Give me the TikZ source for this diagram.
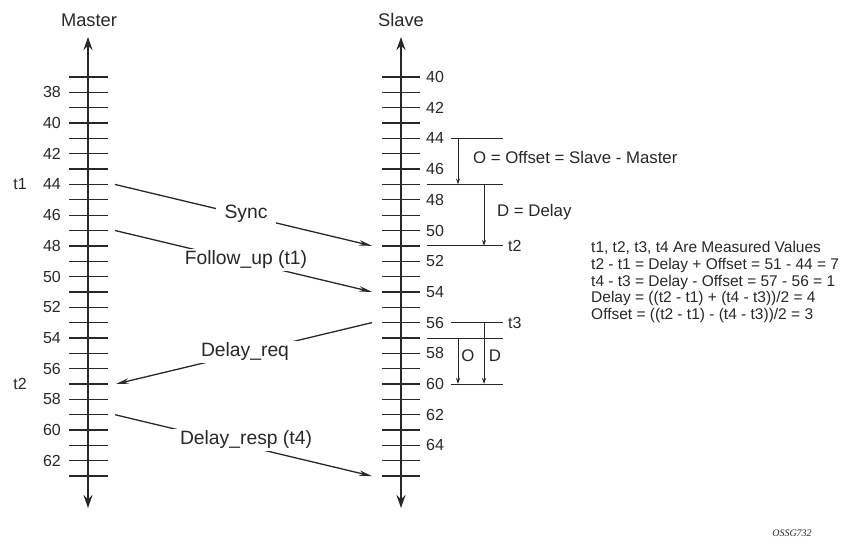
\documentclass[tikz,border=0pt]{standalone}
\usepackage{fontspec}
\setmainfont{Liberation Sans}
\newfontfamily\capfont{Liberation Serif}
\usetikzlibrary{arrows.meta}
\definecolor{ink}{RGB}{40,40,40}
\begin{document}
\begin{tikzpicture}[x=1pt,y=-1pt,
  axis/.style={draw=ink, line width=2pt, {Stealth[length=13pt,width=9pt]}-{Stealth[length=13pt,width=9pt]}},
  tickline/.style={draw=ink, line width=1.3pt},
  msg/.style={draw=ink, line width=1.3pt, -{Stealth[length=13pt,width=5.5pt]}},
  msglabel/.style={fill=white, inner xsep=9pt, inner ysep=2pt, text=ink, font=\fontsize{19.3}{21}\selectfont},
  num/.style={text=ink, font=\fontsize{16}{18}\selectfont, inner sep=0pt},
  head/.style={text=ink, font=\fontsize{18.3}{20}\selectfont, inner sep=0pt},
  thin/.style={draw=ink, line width=0.8pt},
  thinarrow/.style={draw=ink, line width=0.8pt, -{Stealth[length=6pt,width=4pt]}},
  note/.style={text=ink, font=\fontsize{16.8}{18}\selectfont, inner sep=0pt},
  small/.style={text=ink, font=\fontsize{15.5}{16.8}\selectfont, inner sep=0pt}
]
\useasboundingbox (0,0) rectangle (841,549);

% axes
\coordinate (mtop) at (88,37);
\coordinate (mbot) at (88,508);
\coordinate (stop) at (401,37);
\coordinate (sbot) at (401,508);
\foreach \i in {0,...,26} {
  \pgfmathsetmacro\yy{77+\i*15.35}
  \draw[tickline] (69,\yy) -- (108,\yy);
  \draw[tickline] (382,\yy) -- (420,\yy);
}
\draw[axis] (mbot) -- (mtop);
\draw[axis] (sbot) -- (stop);
\node[head] (master) at (89,20) {Master};
\node[head] (slave) at (401,20) {Slave};

% numbers
\foreach \i in {1,3,...,25} {
  \pgfmathtruncatemacro\v{37+\i}
  \pgfmathsetmacro\yy{77+\i*15.35}
  \node[num, anchor=east] (ml\v) at (61,\yy) {\v};
}
\foreach \i in {0,2,...,24} {
  \pgfmathtruncatemacro\v{40+\i}
  \pgfmathsetmacro\yy{77+\i*15.35}
  \node[num, anchor=west] (sl\v) at (426,\yy) {\v};
}
\node[num] (t1) at (20,184.45) {t1};
\node[num] (t2m) at (20,384) {t2};

% messages
\coordinate (m44) at (115,184.45);
\coordinate (s51) at (372,245.85);
\coordinate (m47) at (115,230.5);
\coordinate (s54) at (372,291.9);
\coordinate (s56) at (372,322.6);
\coordinate (m57) at (116,384);
\coordinate (m59) at (115,414.7);
\coordinate (s66) at (372,476.1);
\draw[msg] (m44) -- (s51);
\node[msglabel] (sync) at (246,214) {Sync};
\draw[msg] (m47) -- (s54);
\node[msglabel] (fup) at (246,260) {Follow\_up (t1)};
\draw[msg] (s56) -- (m57);
\node[msglabel] (dreq) at (245,352) {Delay\_req};
\draw[msg] (m59) -- (s66);
\node[msglabel] (dresp) at (246,440) {Delay\_resp (t4)};

% upper annotations
\coordinate (a1l) at (451,138.4);  \coordinate (a1r) at (503,138.4);
\coordinate (a2l) at (427,184.45); \coordinate (a2r) at (503,184.45);
\coordinate (a3l) at (427,245.85); \coordinate (a3r) at (503,245.85);
\draw[thin] (a1l) -- (a1r);
\draw[thin] (a2l) -- (a2r);
\draw[thin] (a3l) -- (a3r);
\coordinate (o1s) at (458,138.4); \coordinate (o1e) at (458,184.45);
\coordinate (d1s) at (484,184.45); \coordinate (d1e) at (484,245.85);
\draw[thinarrow] (o1s) -- (o1e);
\draw[thinarrow] (d1s) -- (d1e);
\node[note, anchor=west] (olabel) at (473,157) {O = Offset = Slave - Master};
\node[note, anchor=west] (dlabel) at (497,212) {D = Delay};
\node[num, anchor=west] (t2s) at (508,246) {t2};

% lower annotations
\coordinate (b1l) at (451,322.6);  \coordinate (b1r) at (503,322.6);
\coordinate (b2l) at (427,337.95); \coordinate (b2r) at (503,337.95);
\coordinate (b3l) at (451,384);    \coordinate (b3r) at (503,384);
\draw[thin] (b1l) -- (b1r);
\draw[thin] (b2l) -- (b2r);
\draw[thin] (b3l) -- (b3r);
\coordinate (o2s) at (458,337.95); \coordinate (o2e) at (458,384);
\coordinate (d2s) at (484,322.6);  \coordinate (d2e) at (484,384);
\draw[thinarrow] (o2s) -- (o2e);
\draw[thinarrow] (d2s) -- (d2e);
\node[note] (olab2) at (468,356) {O};
\node[note] (dlab2) at (495,356) {D};
\node[num, anchor=west] (t3s) at (508,322.6) {t3};

% formulas
\node[small, anchor=west, align=left] (formulas) at (591,282) {t1, t2, t3, t4 Are Measured Values\\
t2 - t1 = Delay + Offset = 51 - 44 = 7\\
t4 - t3 = Delay - Offset = 57 - 56 = 1\\
Delay = ((t2 - t1) + (t4 - t3))/2 = 4\\
Offset = ((t2 - t1) - (t4 - t3))/2 = 3};

\node[text=ink, font=\capfont\itshape\fontsize{10}{12}\selectfont, inner sep=0pt] (code) at (792,533) {OSSG732};
\end{tikzpicture}
\end{document}
